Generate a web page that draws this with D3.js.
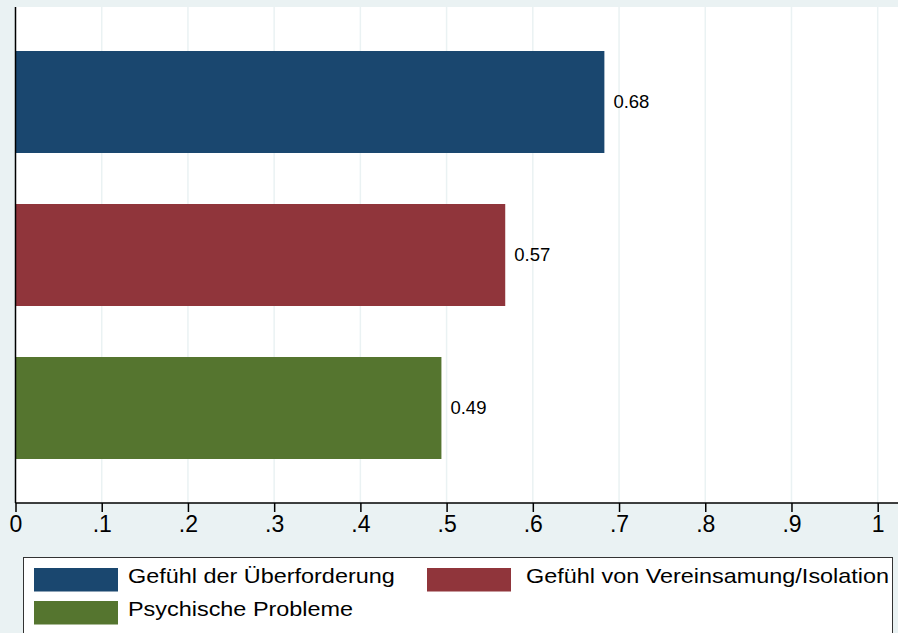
<!DOCTYPE html>
<html>
<head>
<meta charset="utf-8">
<script src="https://cdn.jsdelivr.net/npm/d3@7"></script>
<style>
  body { margin: 0; background: #eaf2f3; }
  svg { display: block; font-family: "Liberation Sans", Arial, sans-serif; }
</style>
</head>
<body>
<div class="root"></div>
<script>
// data
var categories = ["Gefühl der Überforderung", "Gefühl von Vereinsamung/Isolation", "Psychische Probleme"];
var values     = [0.683, 0.568, 0.494];
var colors     = ["#1a476f", "#90353b", "#55752f"];
var tickValues = [0, 0.1, 0.2, 0.3, 0.4, 0.5, 0.6, 0.7, 0.8, 0.9, 1];
var tickLabels = ["0", ".1", ".2", ".3", ".4", ".5", ".6", ".7", ".8", ".9", "1"];

var width = 898, height = 633;
var plotLeft = 15.5, plotTop = 7, plotBottom = 503, plotRight = 898;

var svg = d3.select(".root").append("svg")
            .attr("width", width)
            .attr("height", height);

svg.append("rect")
   .attr("width", width).attr("height", height)
   .attr("fill", "#eaf2f3");

svg.append("rect")
   .attr("x", plotLeft).attr("y", plotTop)
   .attr("width", plotRight - plotLeft).attr("height", plotBottom - plotTop)
   .attr("fill", "#fff");

var x = d3.scaleLinear().domain([0, 1]).range([plotLeft, 877.7]);

var y = d3.scaleBand()
          .domain(categories)
          .range([plotTop + 44, plotBottom - 44])
          .paddingInner(1/3);

// grid lines
svg.append("g").selectAll("line")
   .data(tickValues.slice(1))
   .enter().append("line")
   .attr("x1", function (d) { return x(d); })
   .attr("x2", function (d) { return x(d); })
   .attr("y1", plotTop)
   .attr("y2", plotBottom)
   .attr("stroke", "#eaf2f3")
   .attr("stroke-width", 1.5);

// bars
svg.append("g").selectAll("rect")
   .data(values)
   .enter().append("rect")
   .attr("x", x(0))
   .attr("y", function (d, i) { return y(categories[i]); })
   .attr("width", function (d) { return x(d) - x(0); })
   .attr("height", y.bandwidth())
   .attr("fill", function (d, i) { return colors[i]; });

// value labels
svg.append("g").selectAll("text")
   .data(values)
   .enter().append("text")
   .attr("x", function (d) { return x(d) + 9; })
   .attr("y", function (d, i) { return y(categories[i]) + y.bandwidth() / 2 + 6; })
   .attr("font-size", 18.5)
   .attr("fill", "#000")
   .text(function (d) { return d3.format(".2f")(d); });

// x axis
var xAxis = d3.axisBottom(x)
              .tickValues(tickValues)
              .tickFormat(function (d, i) { return tickLabels[i]; })
              .tickSize(9)
              .tickPadding(4);

var gx = svg.append("g")
            .attr("transform", "translate(0," + plotBottom + ")")
            .call(xAxis);
gx.select(".domain").attr("stroke", "#000").attr("stroke-width", 1.5)
  .attr("d", "M" + plotLeft + ",0H" + plotRight);
gx.selectAll(".tick line").attr("stroke", "#000").attr("stroke-width", 1.5);
gx.selectAll(".tick text")
  .attr("font-size", 23)
  .attr("font-family", "Liberation Sans, Arial, sans-serif")
  .attr("fill", "#000");

// y axis line
svg.append("line")
   .attr("x1", plotLeft).attr("x2", plotLeft)
   .attr("y1", plotTop).attr("y2", plotBottom)
   .attr("stroke", "#000").attr("stroke-width", 1.5);

// legend
var legend = svg.append("g");
legend.append("rect")
      .attr("x", 23.5).attr("y", 557.5)
      .attr("width", 869).attr("height", 90)
      .attr("fill", "#fff")
      .attr("stroke", "#333").attr("stroke-width", 1);

var legendPos = [[34, 568, 94], [427, 568, 99], [34, 601, 94]];
var stretch = 1.115;

var item = legend.selectAll("g.item")
                 .data(categories)
                 .enter().append("g")
                 .attr("class", "item")
                 .attr("transform", function (d, i) { return "translate(" + legendPos[i][0] + "," + legendPos[i][1] + ")"; });

item.append("rect")
    .attr("width", 84).attr("height", 23.5)
    .attr("fill", function (d, i) { return colors[i]; });

item.append("text")
    .attr("x", function (d, i) { return legendPos[i][2] / stretch; })
    .attr("y", 14.5)
    .attr("font-size", 21)
    .attr("transform", "scale(" + stretch + ",1)")
    .attr("fill", "#000")
    .text(function (d) { return d; });
</script>
</body>
</html>
